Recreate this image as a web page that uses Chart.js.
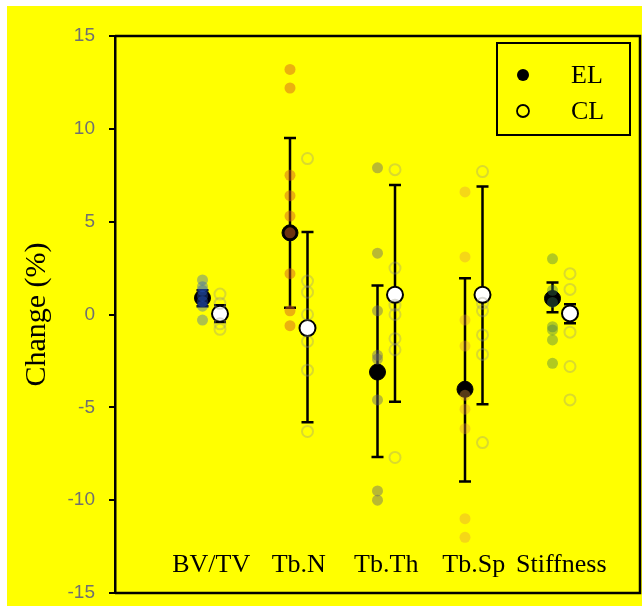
<!DOCTYPE html>
<html>
<head>
<meta charset="utf-8">
<script src="https://cdn.jsdelivr.net/npm/chart.js@4.4.0/dist/chart.umd.min.js"></script>
<style>
  html, body { margin: 0; padding: 0; background: #fff; }
  #wrap { position: absolute; left: 7px; top: 6px; width: 635px; height: 600px; background: #ffff00; }
</style>
</head>
<body>
<div id="wrap"><canvas id="chart" width="635" height="600"></canvas></div>
<script>
// categories and summary values (mean, error bar ends)
const categories = ["BV/TV", "Tb.N", "Tb.Th", "Tb.Sp", "Stiffness"];
const elMean = [0.89, 4.4, -3.1, -4.03, 0.86];
const elLow = [0.45, 0.36, -7.67, -9.0, 0.12];
const elHigh = [1.3, 9.5, 1.56, 1.95, 1.73];
const clMean = [0.04, -0.73, 1.06, 1.06, 0.06];
const clLow = [-0.4, -5.8, -4.7, -4.84, -0.47];
const clHigh = [0.5, 4.45, 6.97, 6.9, 0.55];

// individual subjects
const elBVTV = [1.86, 1.5, 1.3, 1.0, 0.7, 0.45, -0.3];
const elTbN = [13.2, 12.2, 7.5, 6.4, 5.3, 4.4, 2.2, 0.2, -0.6];
const elTbTh = [7.9, 3.3, 0.2, -2.2, -2.4, -4.6, -9.5, -10.0];
const elTbSp = [6.6, 3.1, -0.3, -1.7, -4.35, -5.1, -6.15, -11.0, -12.0];
const elStiff = [3.0, 1.3, 0.65, -0.66, -0.83, -1.37, -2.63];
const clBVTV = [1.1, 0.6, -0.5, -0.8];
const clTbN = [8.4, 1.8, 1.2, 0.0, -1.45, -3.0, -6.3];
const clTbTh = [7.8, 2.5, 0.5, 0.0, -1.3, -1.9, -7.7];
const clTbSp = [7.7, 0.6, 0.2, -1.1, -2.15, -6.9];
const clStiff = [2.2, 1.35, -0.95, -2.8, -4.6];

const elPoints = [elBVTV, elTbN, elTbTh, elTbSp, elStiff];
const clPoints = [clBVTV, clTbN, clTbTh, clTbSp, clStiff];
const elColors = [
  "rgba(40, 90, 200, 0.38)",
  "rgba(215, 100, 30, 0.5)",
  "rgba(100, 100, 110, 0.45)",
  "rgba(230, 150, 60, 0.38)",
  "rgba(60, 120, 80, 0.4)",
];
const clColor = "rgba(150, 150, 130, 0.35)";
const shift = 0.1; // EL left, CL right of the category position

const toXY = (vals, i, dx) => vals.map(v => ({ x: i + 1 + dx, y: v }));

const datasets = [];
// individual points first so they are painted on top of the means
elPoints.forEach((vals, i) => {
  datasets.push({
    label: "EL " + categories[i],
    data: toXY(vals, i, -shift),
    pointRadius: 5.5,
    pointBackgroundColor: elColors[i],
    pointBorderWidth: 0,
  });
});
clPoints.forEach((vals, i) => {
  datasets.push({
    label: "CL " + categories[i],
    data: toXY(vals, i, shift),
    pointRadius: 5.5,
    pointBackgroundColor: "rgba(0,0,0,0)",
    pointBorderColor: clColor,
    pointBorderWidth: 2,
  });
});
datasets.push({
  label: "CL",
  data: clMean.map((v, i) => ({ x: i + 1 + shift, y: v })),
  pointRadius: 8,
  pointBackgroundColor: "#ffffff",
  pointBorderColor: "#000000",
  pointBorderWidth: 2,
});
datasets.push({
  label: "EL",
  data: elMean.map((v, i) => ({ x: i + 1 - shift, y: v })),
  pointRadius: 8,
  pointBackgroundColor: "#000000",
  pointBorderColor: "#000000",
  pointBorderWidth: 1,
});

const serif = "'Liberation Serif', 'Times New Roman', serif";

const decor = {
  id: "decor",
  beforeDatasetsDraw(chart) {
    const { ctx, scales: { x, y } } = chart;
    ctx.save();
    ctx.strokeStyle = "#000";
    ctx.lineWidth = 2.5;
    const bars = [[elLow, elHigh, -shift], [clLow, clHigh, shift]];
    bars.forEach(([lo, hi, dx]) => {
      lo.forEach((l, i) => {
        const px = x.getPixelForValue(i + 1 + dx);
        const y0 = y.getPixelForValue(l);
        const y1 = y.getPixelForValue(hi[i]);
        ctx.beginPath();
        ctx.moveTo(px, y0); ctx.lineTo(px, y1);
        ctx.moveTo(px - 6, y0); ctx.lineTo(px + 6, y0);
        ctx.moveTo(px - 6, y1); ctx.lineTo(px + 6, y1);
        ctx.stroke();
      });
    });
    ctx.restore();
  },
  afterDatasetsDraw(chart) {
    const { ctx, chartArea: a, scales: { x, y } } = chart;
    ctx.save();
    // frame
    ctx.strokeStyle = "#000";
    ctx.lineWidth = 2.5;
    ctx.beginPath();
    ctx.moveTo(a.left, a.top); ctx.lineTo(a.right, a.top);
    ctx.lineTo(a.right, a.bottom); ctx.lineTo(a.left, a.bottom);
    ctx.stroke();

    // category names inside the plot
    ctx.fillStyle = "#000";
    ctx.font = "26px " + serif;
    ctx.textAlign = "center";
    ctx.textBaseline = "middle";
    categories.forEach((c, i) => {
      ctx.fillText(c, x.getPixelForValue(i + 1), y.getPixelForValue(-13.5));
    });

    // legend box
    const bx = a.right - 143, by = a.top + 7, bw = 133, bh = 92;
    ctx.lineWidth = 2;
    ctx.strokeRect(bx, by, bw, bh);
    ctx.font = "26px " + serif;
    ctx.textAlign = "left";
    ["EL", "CL"].forEach((name, k) => {
      const cy = by + 32 + k * 36;
      ctx.beginPath();
      ctx.arc(bx + 26, cy, 6, 0, Math.PI * 2);
      if (k === 0) { ctx.fillStyle = "#000"; ctx.fill(); }
      else { ctx.lineWidth = 1.8; ctx.stroke(); }
      ctx.fillStyle = "#000";
      ctx.fillText(name, bx + 74, cy + 1);
    });
    ctx.restore();
  },
};

new Chart(document.getElementById("chart").getContext("2d"), {
  type: "scatter",
  data: { datasets },
  options: {
    responsive: false,
    animation: false,
    layout: { autoPadding: false, padding: { left: 0, top: 30, right: 2, bottom: 13 } },
    plugins: { legend: { display: false }, tooltip: { enabled: false } },
    scales: {
      x: { type: "linear", min: -0.1, max: 5.9, display: false },
      y: {
        min: -15,
        max: 15,
        ticks: {
          stepSize: 5,
          color: "#707070",
          padding: 14,
          font: { family: "'Liberation Sans', Arial, sans-serif", size: 19 },
        },
        grid: { drawOnChartArea: false, drawTicks: true, tickLength: 6, color: "#000", lineWidth: 2 },
        border: { color: "#000", width: 2.5 },
        title: {
          display: true,
          text: "Change (%)",
          color: "#000",
          font: { family: serif, size: 30 },
          padding: { top: 12, bottom: 0 },
        },
        afterFit(scale) {
          scale.width = 108;
          scale.paddingTop = 0;
          scale.paddingBottom = 0;
        },
      },
    },
  },
  plugins: [decor],
});
</script>
</body>
</html>
